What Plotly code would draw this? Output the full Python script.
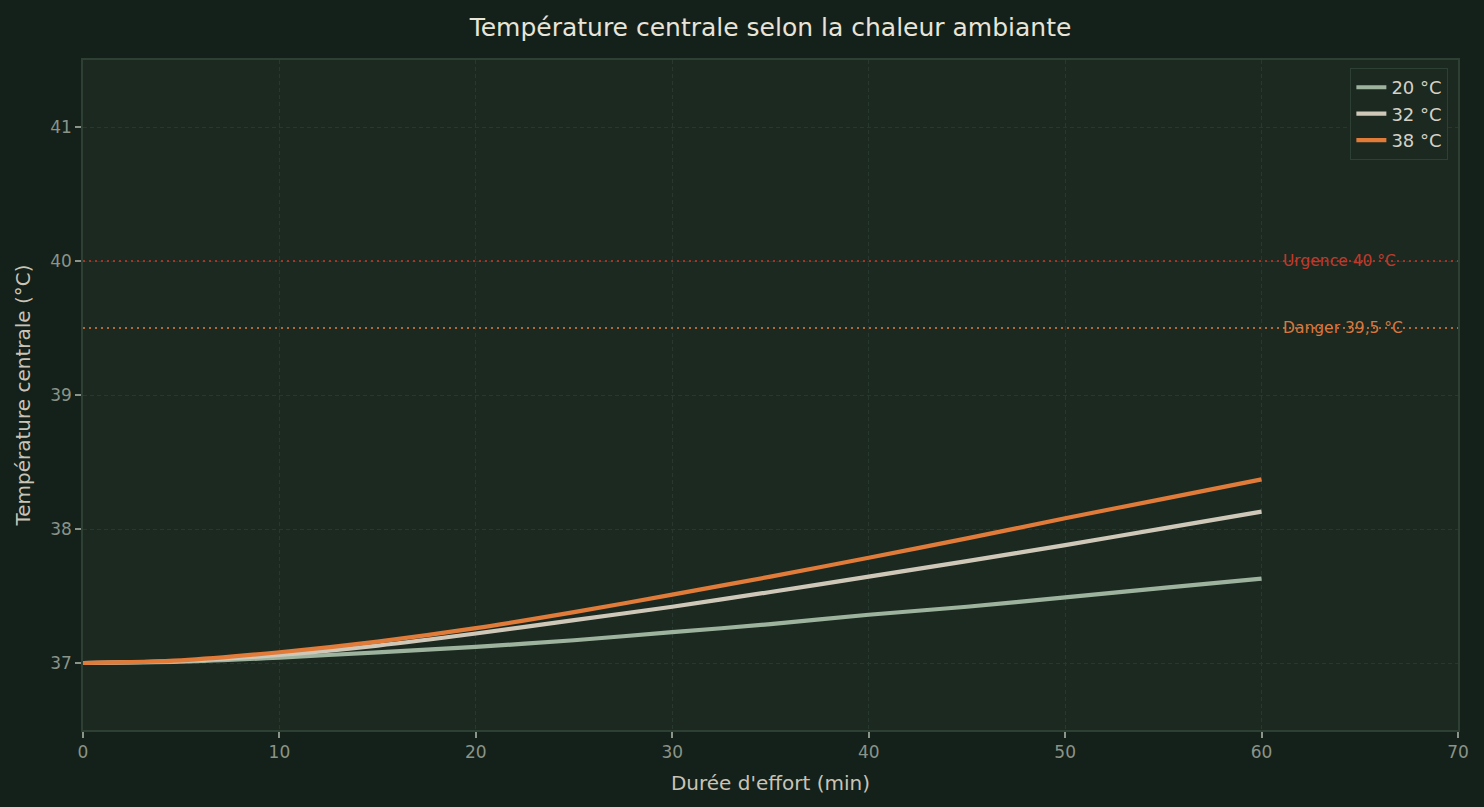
import plotly.graph_objects as go

minutes = [0, 5, 10, 15, 20, 25, 30, 35, 40, 45, 50, 55, 60]
temp_20 = [37.00, 37.01, 37.04, 37.08, 37.12, 37.17, 37.23, 37.29, 37.36, 37.42, 37.49, 37.56, 37.63]
temp_32 = [37.00, 37.015, 37.06, 37.13, 37.22, 37.32, 37.42, 37.53, 37.645, 37.76, 37.88, 38.005, 38.13]
temp_38 = [37.00, 37.02, 37.08, 37.16, 37.26, 37.38, 37.51, 37.645, 37.785, 37.93, 38.08, 38.225, 38.37]
series_names = ["20 °C", "32 °C", "38 °C"]
series_colors = ["#9db39d", "#cfc8b9", "#e07b39"]
thresholds = [40.0, 39.5]
threshold_labels = ["Urgence 40 °C", "Danger 39,5 °C"]
threshold_colors = ["#c0392b", "#d9773c"]

FONT = "DejaVu Sans"
fig = go.Figure()
for name, vals, col in zip(series_names, [temp_20, temp_32, temp_38], series_colors):
    fig.add_trace(go.Scatter(x=minutes, y=vals, mode="lines", name=name,
                             line=dict(color=col, width=4.2, shape="spline", smoothing=0.8)))

for yv, lab, col in zip(thresholds, threshold_labels, threshold_colors):
    fig.add_hline(y=yv, line=dict(color=col, width=2, dash="2px,4px"), opacity=0.8)
    fig.add_annotation(x=61, y=yv, text=lab, showarrow=False, xanchor="left",
                       yanchor="middle", font=dict(family=FONT, size=15.5, color=col))

axis_common = dict(
    showgrid=True, gridcolor="#283830", griddash="4px,3px", gridwidth=1,
    zeroline=False, showline=True, linecolor="#2e4034", linewidth=1.5, mirror=True,
    ticks="outside", ticklen=6, tickcolor="#8a9488", tickwidth=1.5,
    tickfont=dict(family=FONT, size=17, color="#8a9488"),
)
fig.update_xaxes(range=[0, 70], tick0=0, dtick=10,
                 title=dict(text="Durée d'effort (min)", font=dict(family=FONT, size=20, color="#c9c4b6"), standoff=15),
                 **axis_common)
fig.update_yaxes(range=[36.5, 41.5], tickvals=[37, 38, 39, 40, 41],
                 title=dict(text="Température centrale (°C)", font=dict(family=FONT, size=20, color="#c9c4b6"), standoff=14),
                 **axis_common)

fig.update_layout(
    width=1484, height=807,
    margin=dict(l=83, r=26, t=60, b=77),
    paper_bgcolor="#14201a", plot_bgcolor="#1b2921",
    title=dict(text="Température centrale selon la chaleur ambiante", xref="paper", x=0.5, xanchor="center",
               yref="container", y=0.966, yanchor="middle", font=dict(family=FONT, size=25, color="#e8e4d8")),
    legend=dict(x=0.993, y=0.988, xanchor="right", yanchor="top",
                bgcolor="#1b2921", bordercolor="#2e4034", borderwidth=1,
                font=dict(family=FONT, size=18, color="#d6d1c4")),
    showlegend=True,
)
fig.write_html("out.html")
